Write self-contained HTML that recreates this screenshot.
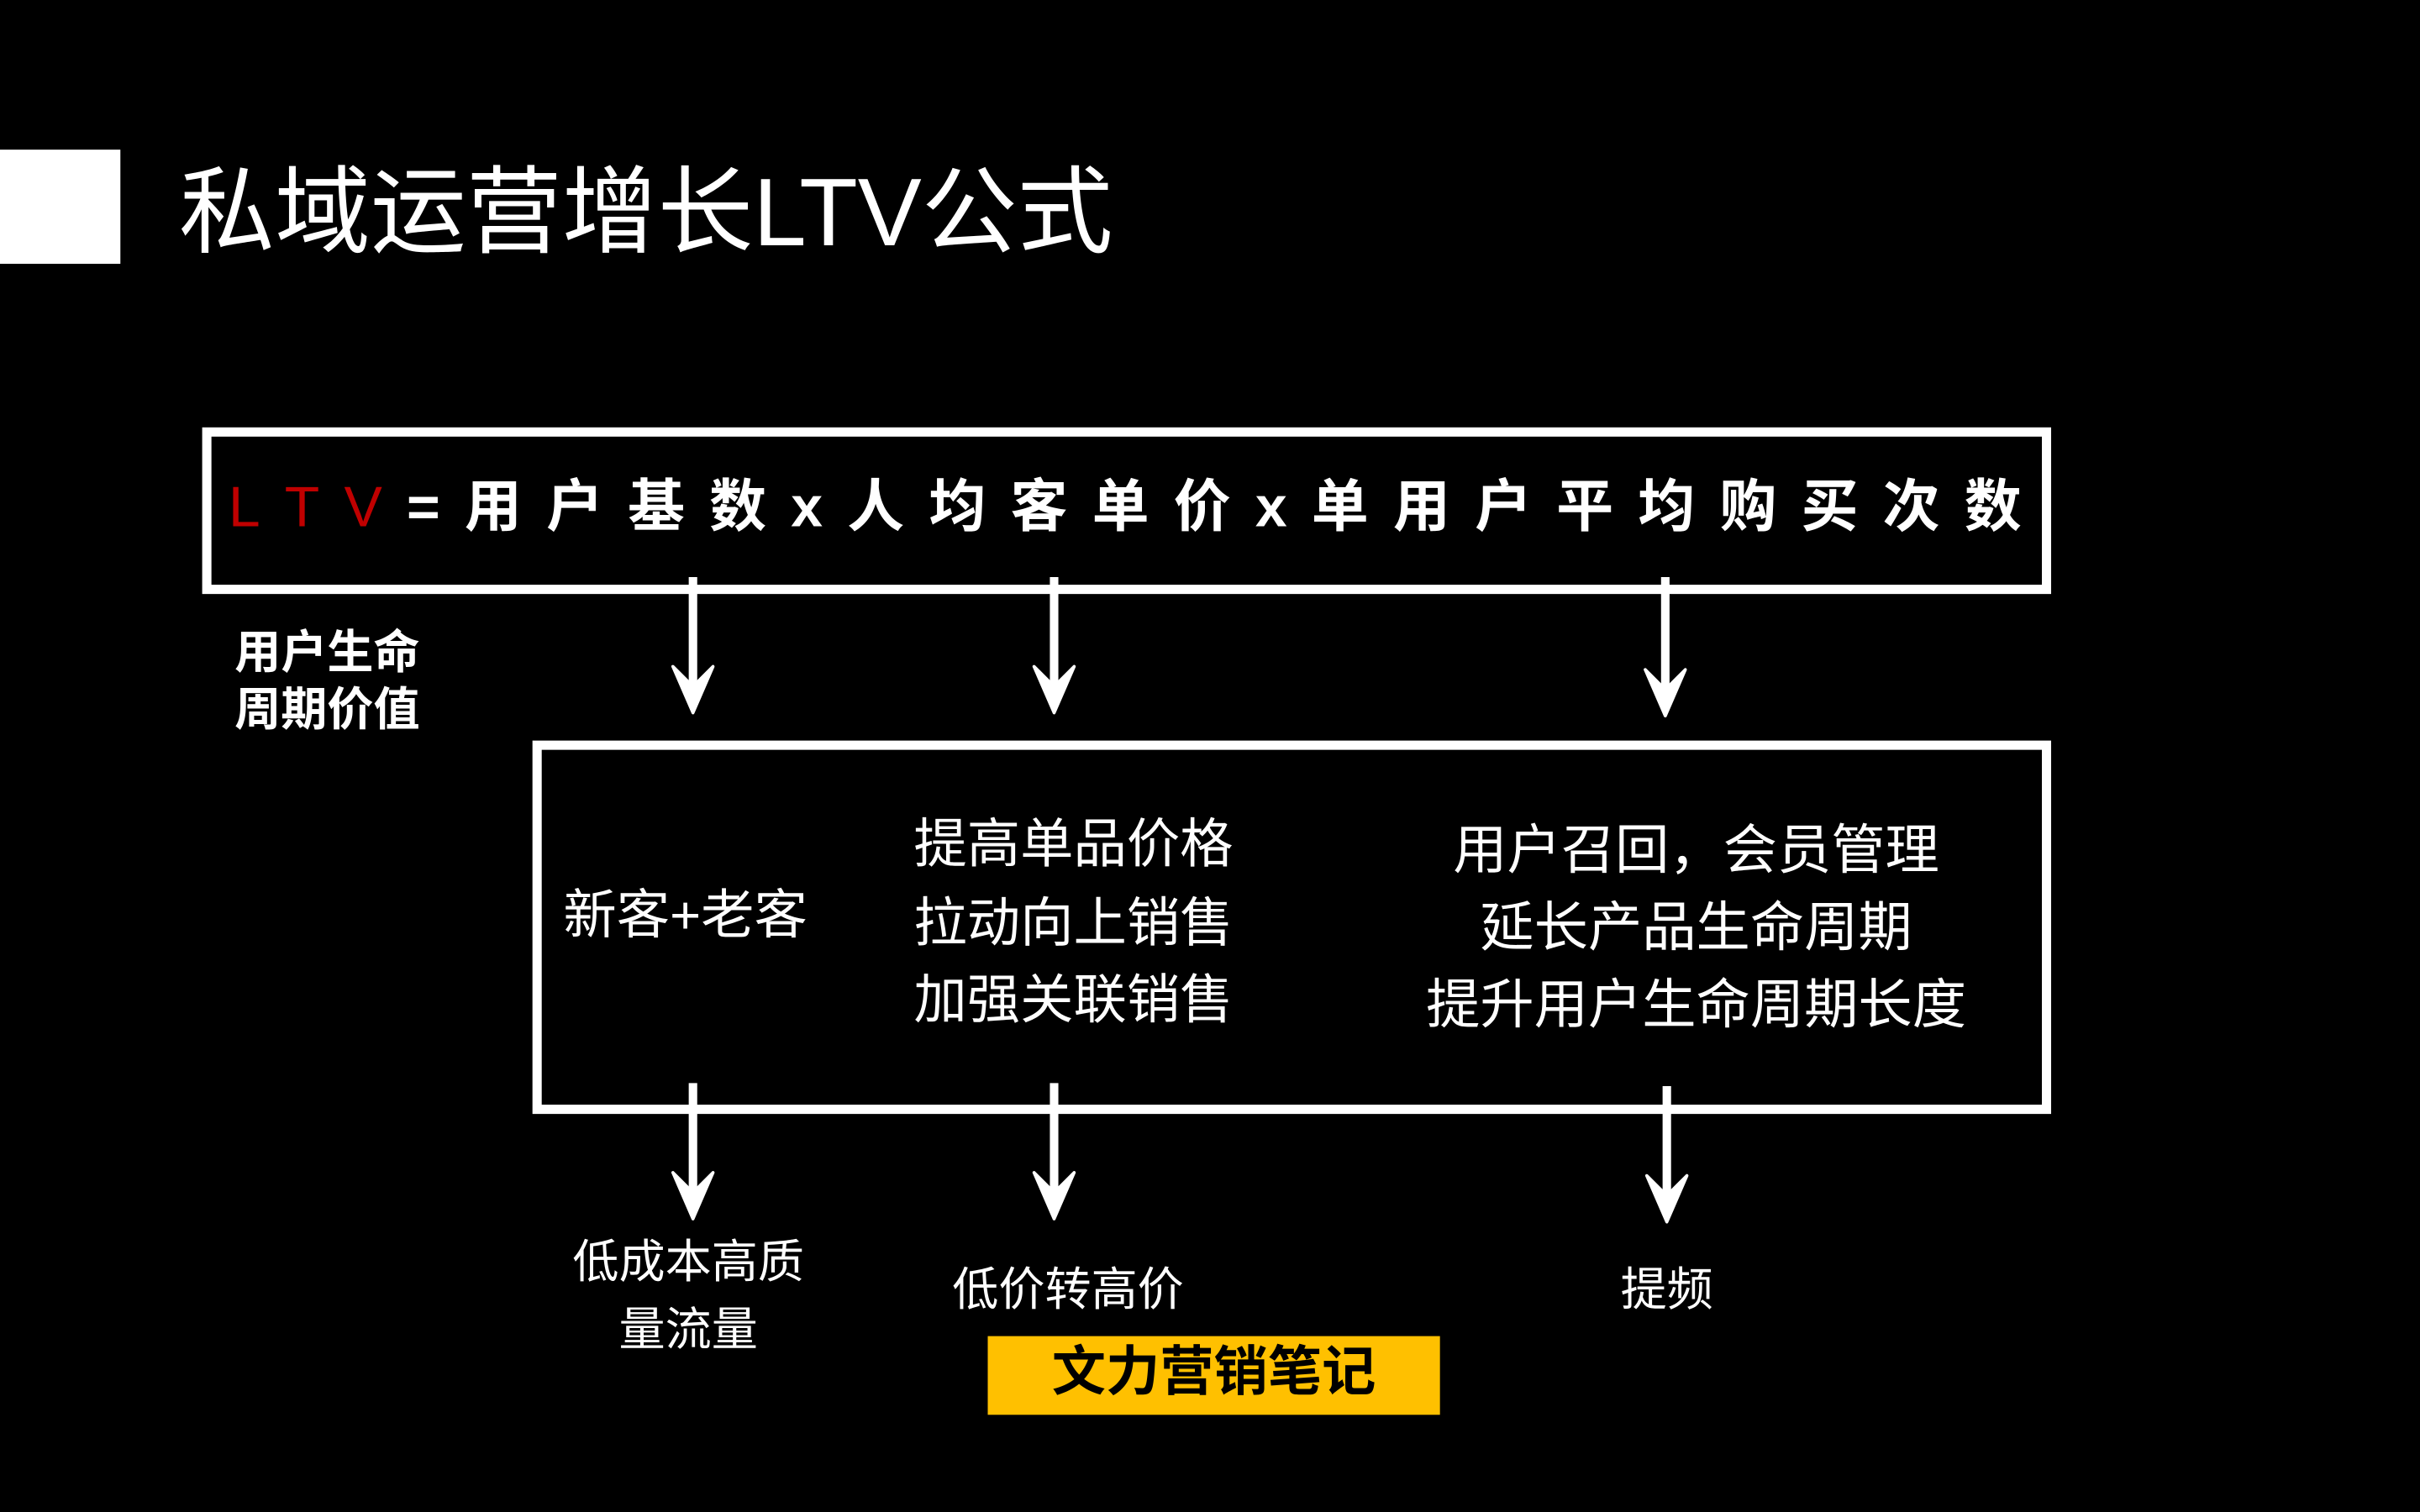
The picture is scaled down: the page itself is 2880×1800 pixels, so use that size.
<!DOCTYPE html>
<html><head><meta charset="utf-8"><style>
html,body{margin:0;padding:0;background:#000;}
body{width:2880px;height:1800px;overflow:hidden;position:relative;}
#s{position:absolute;left:0;top:0;width:1568px;height:980px;transform:scale(1.836735);transform-origin:0 0;font-family:"Liberation Sans","Noto Sans CJK SC",sans-serif;color:#fff;}
.a{position:absolute;white-space:nowrap;}
.box{position:absolute;border:6px solid #fff;box-sizing:border-box;}
</style></head><body><div id="s">
<div class="a" style="left:0;top:97px;width:78px;height:74px;background:#fff"></div>
<div class="a" style="left:116px;top:99px;font-size:62px;line-height:80px;letter-spacing:0px">私域运营增长LTV公式</div>

<div class="box" style="left:131px;top:277px;width:1198px;height:108px"></div>
<div class="a" style="left:148px;top:306px;width:1162px;display:flex;justify-content:space-between;font-size:37px;font-weight:bold;line-height:46px">
<span style="color:#c00000;font-weight:normal">L</span><span style="color:#c00000;font-weight:normal">T</span><span style="color:#c00000;font-weight:normal">V</span><span>=</span><span>用</span><span>户</span><span>基</span><span>数</span><span>x</span><span>人</span><span>均</span><span>客</span><span>单</span><span>价</span><span>x</span><span>单</span><span>用</span><span>户</span><span>平</span><span>均</span><span>购</span><span>买</span><span>次</span><span>数</span>
</div>

<div class="a" style="left:152px;top:405px;font-size:30px;line-height:37px;font-weight:600">用户生命<br>周期价值</div>

<div class="box" style="left:345px;top:480px;width:984px;height:242px"></div>

<svg class="a" style="left:0;top:0" width="1568" height="980" viewBox="0 0 1568 980">
<g fill="#fff" stroke="#fff" stroke-width="5.5">
<line x1="449" y1="374" x2="449" y2="450"/>
<line x1="683" y1="374" x2="683" y2="450"/>
<line x1="1079" y1="374" x2="1079" y2="452"/>
<line x1="449" y1="702" x2="449" y2="780"/>
<line x1="683" y1="702" x2="683" y2="780"/>
<line x1="1080" y1="704" x2="1080" y2="782"/>
</g>
<g fill="#fff" stroke="#fff" stroke-width="2" stroke-linejoin="round">
<path d="M449 462 L436 432 L449 445 L462 432 Z"/>
<path d="M683 462 L670 432 L683 445 L696 432 Z"/>
<path d="M1079 464 L1066 434 L1079 447 L1092 434 Z"/>
<path d="M449 790 L436 760 L449 773 L462 760 Z"/>
<path d="M683 790 L670 760 L683 773 L696 760 Z"/>
<path d="M1080 792 L1067 762 L1080 775 L1093 762 Z"/>
</g>
</svg>

<div class="a" style="left:365px;top:573px;font-size:34.5px;line-height:42px">新客+老客</div>
<div class="a" style="left:592px;top:523px;font-size:34.5px;line-height:50.5px">提高单品价格<br>拉动向上销售<br>加强关联销售</div>
<div class="a" style="left:880px;top:527px;width:438px;text-align:center;font-size:35px;line-height:50px">用户召回，会员管理<br>延长产品生命周期<br>提升用户生命周期长度</div>

<div class="a" style="left:346px;top:797px;width:200px;text-align:center;font-size:30px;line-height:44px">低成本高质<br>量流量</div>
<div class="a" style="left:592px;top:818px;width:200px;text-align:center;font-size:30px;line-height:38px">低价转高价</div>
<div class="a" style="left:1030px;top:818px;width:100px;text-align:center;font-size:30px;line-height:38px">提频</div>

<div class="a" style="left:640px;top:866px;width:293px;height:51px;background:#ffc000;color:#000;font-weight:bold;font-size:35px;line-height:48px;text-align:center">文力营销笔记</div>
</div></body></html>
